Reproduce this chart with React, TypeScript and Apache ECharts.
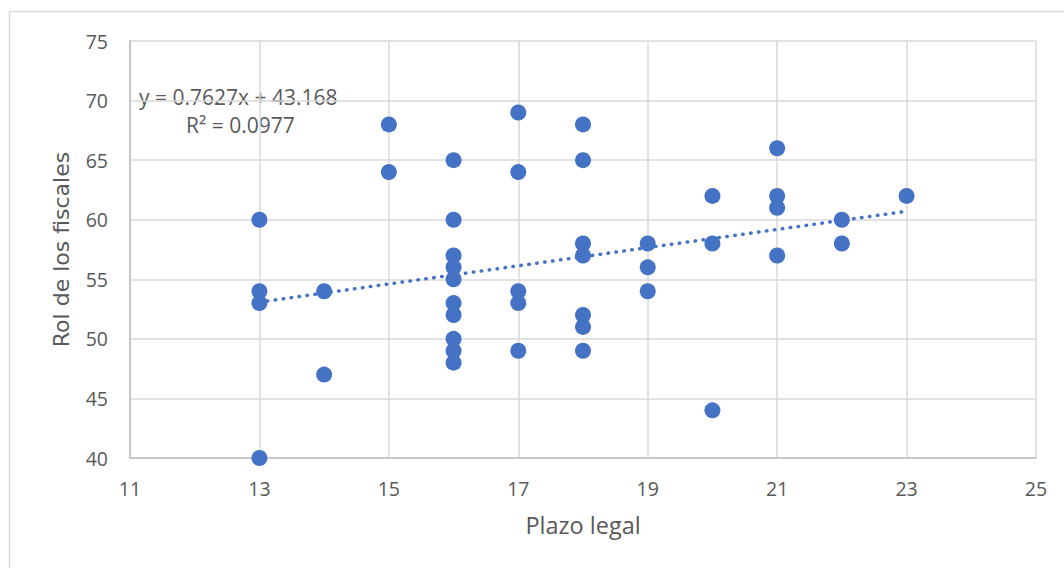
import React, { useEffect, useRef } from "react";
import * as echarts from "echarts";

const xValues = [13, 13, 13, 13, 14, 14, 15, 15, 16, 16, 16, 16, 16, 16, 16, 16, 16, 16, 17, 17, 17, 17, 17, 18, 18, 18, 18, 18, 18, 18, 19, 19, 19, 20, 20, 20, 21, 21, 21, 21, 22, 22, 23];
const yValues = [60, 54, 53, 40, 54, 47, 68, 64, 65, 60, 57, 56, 55, 53, 52, 50, 49, 48, 69, 64, 54, 53, 49, 68, 65, 58, 57, 52, 51, 49, 58, 56, 54, 62, 58, 44, 66, 62, 61, 57, 60, 58, 62];
const slope = 0.7627;
const intercept = 43.168;
const r2 = 0.0977;
const trendX = [13, 23];

const FONT = "Open Sans";
const TXT = "#595959";

export default function App() {
  const ref = useRef<HTMLDivElement>(null);
  useEffect(() => {
    const chart = echarts.init(ref.current!, undefined, { renderer: "svg" });
    const points = xValues.map((x, i) => [x, yValues[i]]);
    const trend = trendX.map((x) => [x, slope * x + intercept]);
    chart.setOption({
      animation: false,
      backgroundColor: "#ffffff",
      textStyle: { fontFamily: FONT },
      grid: { left: 130, top: 41, width: 906, height: 417 },
      xAxis: {
        type: "value",
        min: 11,
        max: 25,
        interval: 2,
        name: "Plazo legal",
        nameLocation: "middle",
        nameGap: 55,
        nameTextStyle: { color: TXT, fontSize: 23.5, fontFamily: FONT },
        axisLine: { show: true, lineStyle: { color: "#bfbfbf", width: 1.5 } },
        axisTick: { show: false },
        axisLabel: { color: TXT, fontSize: 19.5, margin: 20, fontFamily: FONT },
        splitLine: { show: true, lineStyle: { color: "#d9d9d9", width: 1.5 } },
      },
      yAxis: {
        type: "value",
        min: 40,
        max: 75,
        interval: 5,
        name: "Rol de los fiscales",
        nameLocation: "middle",
        nameGap: 58,
        nameTextStyle: { color: TXT, fontSize: 22, fontFamily: "DejaVu Sans" },
        axisLine: { show: true, lineStyle: { color: "#bfbfbf", width: 1.5 } },
        axisTick: { show: false },
        axisLabel: { color: TXT, fontSize: 19.5, margin: 22, fontFamily: FONT },
        splitLine: { show: true, lineStyle: { color: "#d9d9d9", width: 1.5 } },
      },
      graphic: [
        {
          type: "rect",
          shape: { x: 9.5, y: 11.5, width: 1200, height: 700 },
          style: { fill: "none", stroke: "#d9d9d9", lineWidth: 1.5 },
          silent: true,
          z: -10,
        },
        {
          type: "text",
          left: 139,
          top: 86,
          style: {
            text: `y = ${slope}x + ${intercept}`,
            fill: TXT,
            font: `21px "${FONT}"`,
          },
        },
        {
          type: "text",
          left: 186,
          top: 114,
          style: {
            text: `R² = ${r2}`,
            fill: TXT,
            font: `21px "${FONT}"`,
          },
        },
      ],
      series: [
        {
          type: "line",
          data: trend,
          showSymbol: false,
          symbol: "none",
          lineStyle: { color: "#4472C4", width: 3.5, type: [0.5, 7.5], cap: "round" },
          z: 1,
          silent: true,
        },
        {
          type: "scatter",
          data: points,
          symbolSize: 16,
          itemStyle: { color: "#4472C4", opacity: 1 },
          z: 2,
        },
      ],
    });
    return () => chart.dispose();
  }, []);
  return (
    <div
      ref={ref}
      style={{ position: "fixed", left: 0, top: 0, width: 1064, height: 568 }}
    />
  );
}
